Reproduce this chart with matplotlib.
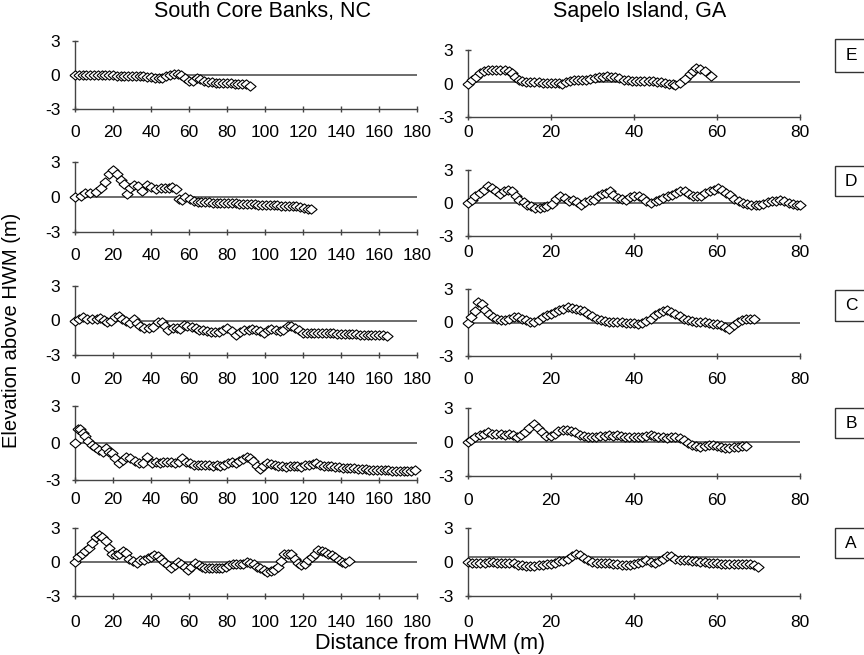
import matplotlib.pyplot as plt
from matplotlib.patches import Rectangle

plt.rcParams['font.family'] = ['Liberation Sans', 'DejaVu Sans']
plt.rcParams['axes.unicode_minus'] = False

# South Core Banks, NC profiles (distance m, elevation m)
nc_e_x = [0, 2, 4, 6, 8, 10, 12, 14, 16, 18, 20, 22, 24, 26, 28, 30, 32, 34, 36, 38, 40, 42, 44, 46,
          48, 50, 52, 54, 56, 58, 60, 62, 64, 66, 68, 70, 72, 74, 76, 78, 80, 82, 84, 86, 88, 90, 92]
nc_e_y = [0, 0, 0, 0, 0, -0.02, -0.02, -0.03, -0.03, -0.03, -0.04, -0.05, -0.05, -0.06, -0.07, -0.08,
          -0.1, -0.1, -0.12, -0.15, -0.2, -0.25, -0.3, -0.25, -0.1, 0.0, 0.05, 0.1, 0.0, -0.3, -0.55,
          -0.5, -0.25, -0.35, -0.5, -0.6, -0.65, -0.7, -0.7, -0.7, -0.72, -0.72, -0.75, -0.75, -0.75,
          -0.75, -0.95]

nc_d_x = [0, 3, 5.5, 8, 11, 13.5, 16, 18, 20, 22, 24, 25.6, 27.4, 29, 31, 33, 35, 38, 40, 42.5, 45,
          47.5, 49.5, 51, 53, 54.5, 56.5, 58, 60.5, 62.5, 64.5, 66.5, 68.5, 70.5, 72.5, 74.5, 76.5,
          78.5, 80.5, 82.5, 84.5, 86.5, 88.5, 90.5, 92.5, 94.5, 96.5, 98.5, 100.5, 102.5, 104.5, 106.5,
          108.5, 110.5, 112.5, 114.5, 116.5, 118.5, 120.5, 122.5, 124]
nc_d_y = [0, 0.1, 0.35, 0.35, 0.4, 0.8, 1.3, 2.0, 2.3, 2.0, 1.5, 1.1, 0.3, 0.8, 1.0, 0.95, 0.55, 1.0,
          0.85, 0.7, 0.75, 0.75, 0.75, 0.85, 0.7, -0.15, -0.25, 0.0, -0.2, -0.3, -0.4, -0.45, -0.45,
          -0.45, -0.5, -0.5, -0.5, -0.5, -0.52, -0.55, -0.55, -0.57, -0.58, -0.6, -0.6, -0.62, -0.65,
          -0.65, -0.68, -0.7, -0.7, -0.72, -0.75, -0.75, -0.75, -0.78, -0.8, -0.85, -0.95, -1.0, -1.05]

nc_c_x = [0, 2, 4, 6.5, 9, 11.7, 13.4, 15.5, 17, 19, 20.8, 23, 24.8, 27, 29, 31, 32.6, 34.4, 36.5,
          38.7, 41, 43.5, 45.7, 47.5, 49, 51.5, 53.6, 55, 57.4, 59, 61.4, 63.7, 65.4, 67.5, 69.6, 71.4,
          73.6, 76, 78, 80, 82.6, 85, 87, 89, 91.4, 93, 95.5, 97.5, 99.6, 101.6, 103.3, 105.6, 107.7,
          109.4, 112, 113.8, 116, 118, 120.2, 122, 124, 126, 128, 130, 132, 134, 136, 138, 140, 142,
          144, 146, 148, 150, 152, 154, 156, 158, 160, 162, 164]
nc_c_y = [0, 0.1, 0.3, 0.1, 0.1, 0.1, 0.2, 0.05, -0.1, 0.0, 0.3, 0.35, 0.1, 0.0, -0.2, 0.1, -0.2, -0.5,
          -0.65, -0.65, -0.6, -0.1, -0.15, -0.5, -0.8, -0.65, -0.65, -0.75, -0.4, -0.5, -0.6, -0.65,
          -0.8, -0.85, -0.95, -1.0, -1.0, -1.0, -0.85, -0.65, -0.95, -1.3, -1.0, -0.8, -0.8, -0.75,
          -0.85, -0.95, -1.1, -0.8, -0.75, -0.8, -0.95, -0.8, -0.5, -0.45, -0.65, -0.85, -1.05, -1.1,
          -1.1, -1.1, -1.1, -1.05, -1.1, -1.1, -1.1, -1.15, -1.15, -1.15, -1.2, -1.2, -1.2, -1.25,
          -1.25, -1.25, -1.3, -1.3, -1.3, -1.3, -1.35]

nc_b_x = [0, 1.4, 2.7, 4, 5.3, 7, 8.8, 10.6, 12.4, 14.5, 16.3, 18, 19.5, 21, 23, 25, 27, 29, 31.5,
          33.6, 35.7, 38, 40.4, 42.5, 44.5, 46.5, 48.5, 50.5, 52.5, 54.5, 56.5, 58.5, 60.5, 62.5, 64.5,
          66.5, 68.5, 70.5, 72.5, 74.5, 76.5, 78.5, 80.5, 82.5, 84.5, 86.5, 88.5, 90.5, 92, 93.8, 95.6,
          97.3, 99, 101, 103, 105, 107, 109, 111, 113, 115, 117, 119, 121, 123, 125, 127, 129, 131,
          133, 135, 137, 139, 141, 143, 145, 147, 149, 151, 153, 155, 157, 159, 161, 163, 165, 167,
          169, 171, 173, 175, 177, 179]
nc_b_y = [0, 1.1, 1.1, 0.85, 0.55, 0.15, -0.2, -0.35, -0.55, -0.7, -0.4, -0.75, -0.85, -1.2, -1.65,
          -1.4, -1.1, -1.25, -1.45, -1.6, -1.6, -1.1, -1.6, -1.55, -1.6, -1.5, -1.55, -1.5, -1.6, -1.5,
          -1.25, -1.5, -1.65, -1.75, -1.8, -1.75, -1.8, -1.8, -1.85, -1.8, -1.85, -1.75, -1.6, -1.55,
          -1.6, -1.45, -1.3, -1.1, -1.25, -1.45, -1.85, -2.1, -1.85, -1.6, -1.7, -1.75, -1.85, -1.9,
          -1.95, -1.9, -1.85, -1.9, -1.95, -1.8, -1.75, -1.7, -1.65, -1.75, -1.85, -1.9, -1.9, -1.95,
          -1.95, -2.0, -2.0, -2.05, -2.05, -2.1, -2.1, -2.1, -2.15, -2.15, -2.2, -2.2, -2.2, -2.2,
          -2.25, -2.25, -2.25, -2.25, -2.25, -2.25, -2.2]

nc_a_x = [0, 1.8, 3.6, 5.3, 7.3, 9, 10.8, 12.6, 14.4, 16.2, 18, 19.7, 21.5, 23.3, 25, 26.8, 28.6,
          30.4, 32.5, 34.3, 36.4, 38.2, 40, 41.7, 43.5, 45.3, 47, 48.8, 50.6, 52.4, 54.2, 56, 57.7,
          59.5, 61.3, 63, 65, 66.6, 68.5, 70.3, 72, 74, 75.8, 77.6, 79.4, 81.2, 83, 85, 86.8, 88.6,
          90.4, 92.2, 94, 95.8, 97.6, 99.4, 101.2, 103, 104.8, 106.6, 108.4, 110.2, 112, 113.8, 115.6,
          117.4, 119.2, 121, 122.7, 124.5, 126.3, 128, 129.8, 131.6, 133.4, 135.2, 137, 138.7, 140.5,
          142.3, 144.4]
nc_a_y = [0, 0.45, 0.75, 0.95, 1.25, 1.7, 2.25, 2.35, 2.25, 1.85, 1.2, 0.7, 0.6, 0.7, 0.95, 0.8,
          0.3, 0.05, -0.1, 0.2, 0.15, 0.35, 0.45, 0.6, 0.55, 0.3, 0.0, -0.3, -0.5, -0.3, 0.0, -0.2,
          -0.45, -0.7, -0.45, -0.1, -0.3, -0.45, -0.5, -0.55, -0.55, -0.55, -0.5, -0.5, -0.45, -0.3,
          -0.2, -0.2, -0.2, -0.15, 0.0, -0.1, -0.2, -0.4, -0.55, -0.7, -0.85, -0.75, -0.7, -0.45, 0.1,
          0.7, 0.75, 0.7, 0.3, -0.1, -0.3, -0.15, 0.15, 0.45, 0.75, 1.05, 1.0, 0.85, 0.7, 0.6, 0.45,
          0.2, 0.0, -0.1, 0.1]

# Sapelo Island, GA profiles
ga_e_x = [0, 1, 2, 2.8, 3.8, 4.7, 5.8, 6.8, 7.8, 8.8, 9.8, 10.6, 11.4, 12.2, 13, 14, 15, 16, 17, 18,
          19, 20, 21, 22, 22.6, 23.5, 24.5, 25.5, 26.5, 27.5, 28.5, 29.5, 30.5, 31.5, 32.5, 33.5,
          34.5, 35.5, 36.5, 37.5, 38.5, 39.5, 40.5, 41.5, 42.5, 43.5, 44.5, 45.5, 46.5, 47.5, 48.5,
          49.3, 50, 51, 52.3, 53.5, 54.3, 55, 56, 57, 58.5]
ga_e_y = [0, 0.3, 0.6, 0.9, 1.1, 1.2, 1.2, 1.2, 1.2, 1.2, 1.15, 0.9, 0.6, 0.3, 0.2, 0.15, 0.12, 0.1,
          0.1, 0.08, 0.08, 0.08, 0.05, 0.05, 0.0, 0.1, 0.25, 0.3, 0.3, 0.3, 0.35, 0.4, 0.5, 0.55, 0.6,
          0.65, 0.6, 0.55, 0.45, 0.35, 0.3, 0.25, 0.2, 0.2, 0.25, 0.2, 0.25, 0.15, 0.1, 0.05, 0.0,
          -0.05, -0.1, 0.05, 0.4, 0.85, 1.1, 1.35, 1.3, 1.1, 0.65]

ga_d_x = [0, 1, 1.8, 2.8, 3.8, 4.8, 5.8, 6.7, 7.6, 8.6, 9.6, 10.7, 11.6, 12.4, 13.4, 14.2, 15.2,
          16.2, 17.3, 18.2, 19, 20.3, 21.3, 22.2, 23.3, 24.3, 25.3, 26.2, 27.3, 28.3, 29.3, 30.3,
          31.3, 32.3, 33.3, 34.3, 35, 36.1, 37.2, 38.1, 39.1, 40.1, 41.2, 42.1, 43, 44.1, 45.2, 46.1,
          47.1, 48.2, 49.2, 50.2, 51.1, 52.2, 53.2, 54.2, 55.1, 56.2, 57.2, 58.2, 59.2, 60.2, 61.2,
          62.2, 63.2, 64.2, 65.2, 66.2, 67.2, 68.2, 69.3, 70.2, 71.2, 72.2, 73.3, 74.2, 75.2, 76.2,
          77.3, 78.2, 79.2, 80]
ga_d_y = [0, 0.3, 0.65, 0.95, 1.2, 1.55, 1.35, 1.05, 0.85, 1.05, 1.2, 1.05, 0.65, 0.3, 0.05, -0.15,
          -0.3, -0.45, -0.45, -0.35, -0.3, -0.05, 0.35, 0.6, 0.45, 0.15, 0.3, 0.05, -0.15, 0.05, 0.25,
          0.3, 0.6, 0.8, 0.9, 1.05, 0.75, 0.45, 0.35, 0.3, 0.55, 0.65, 0.6, 0.45, 0.15, 0.0, 0.15, 0.3,
          0.45, 0.6, 0.75, 0.9, 1.05, 1.05, 0.85, 0.65, 0.6, 0.65, 0.9, 1.05, 1.2, 1.35, 1.2, 0.95,
          0.75, 0.35, 0.15, 0.0, -0.05, -0.15, -0.15, -0.15, -0.05, 0.05, 0.15, 0.15, 0.25, 0.15, 0.0,
          -0.05, -0.15, -0.15]

ga_c_x = [0, 0.8, 1.6, 2.4, 3.4, 4.2, 5.1, 6, 7, 8, 9, 10, 11, 12, 13, 14, 15, 16, 17, 18, 19, 20,
          21, 22, 23, 24, 25, 26, 27, 28, 29, 30, 31, 32, 33, 34, 35, 36, 37, 38, 39, 40, 41, 42, 43,
          44, 45, 46, 47, 48, 49, 50, 51, 52, 53, 54, 55, 56, 57, 58, 59, 60, 61, 62, 63, 64, 65, 66,
          67, 68, 69]
ga_c_y = [0, 0.5, 1.05, 1.85, 1.65, 1.15, 0.75, 0.5, 0.35, 0.25, 0.25, 0.35, 0.5, 0.5, 0.35, 0.2,
          0.05, 0.05, 0.2, 0.45, 0.65, 0.8, 0.95, 1.1, 1.25, 1.35, 1.3, 1.25, 1.15, 1.05, 0.8, 0.55,
          0.35, 0.2, 0.15, 0.05, 0.05, 0.05, 0.05, -0.05, -0.05, -0.05, -0.15, -0.05, 0.15, 0.35, 0.65,
          0.85, 1.05, 1.1, 0.95, 0.75, 0.55, 0.35, 0.2, 0.1, 0.05, 0.05, 0.05, -0.05, -0.1, -0.15,
          -0.25, -0.4, -0.55, -0.25, 0.05, 0.25, 0.35, 0.35, 0.35]

ga_b_x = [0, 0.8, 1.8, 2.8, 3.9, 4.8, 5.8, 6.8, 7.9, 8.8, 9.8, 10.8, 11.9, 12.8, 13.8, 14.8, 15.9,
          16.9, 17.8, 18.9, 19.9, 20.9, 21.8, 22.9, 23.9, 24.9, 25.8, 26.9, 27.9, 28.9, 29.9, 30.9,
          31.9, 32.9, 33.9, 34.9, 36, 36.9, 37.9, 38.9, 40, 40.9, 41.9, 42.9, 44, 44.9, 45.9, 47, 48,
          49, 49.9, 51, 52, 53, 53.9, 55, 56, 57, 58, 59, 60, 61, 62, 63, 64, 65, 66, 67]
ga_b_y = [0, 0.2, 0.4, 0.6, 0.75, 0.9, 0.75, 0.7, 0.75, 0.6, 0.7, 0.6, 0.45, 0.6, 0.85, 1.2, 1.55,
          1.2, 0.85, 0.55, 0.55, 0.75, 1.0, 1.1, 1.1, 1.0, 0.85, 0.6, 0.55, 0.45, 0.45, 0.45, 0.5, 0.5,
          0.6, 0.55, 0.6, 0.55, 0.45, 0.4, 0.4, 0.4, 0.45, 0.55, 0.6, 0.55, 0.45, 0.4, 0.35, 0.4, 0.45,
          0.35, 0.15, -0.05, -0.25, -0.35, -0.45, -0.35, -0.25, -0.25, -0.35, -0.45, -0.5, -0.55,
          -0.45, -0.45, -0.35, -0.35]

ga_a_x = [0, 1, 2, 3, 4, 5, 6, 7, 8, 9, 10, 11, 12, 13, 14, 15, 16, 17, 18, 19, 20, 21, 22, 23, 24,
          25, 26, 27, 28, 29, 30, 31, 32, 33, 34, 35, 36, 37, 38, 39, 40, 41, 42, 43, 44, 45, 46, 47,
          48, 49, 50, 51, 52, 53, 54, 55, 56, 57, 58, 59, 60, 61, 62, 63, 64, 65, 66, 67, 68, 69, 70]
ga_a_y = [0, -0.05, -0.05, -0.05, -0.05, 0.0, 0.0, -0.05, -0.05, -0.05, -0.1, -0.1, -0.3, -0.3,
          -0.35, -0.35, -0.35, -0.3, -0.25, -0.2, -0.15, -0.05, 0.05, 0.1, 0.3, 0.5, 0.75, 0.65, 0.35,
          0.15, 0.0, -0.05, -0.05, -0.05, -0.1, -0.15, -0.2, -0.3, -0.3, -0.25, -0.2, -0.1, 0.0, 0.2,
          0.0, -0.05, 0.05, 0.3, 0.5, 0.55, 0.3, 0.15, 0.15, 0.2, 0.05, 0.05, 0.0, 0.0, -0.05, -0.1,
          -0.1, -0.15, -0.2, -0.2, -0.2, -0.2, -0.15, -0.15, -0.2, -0.3, -0.4]

# HWM reference line level drawn in each Sapelo panel (E..A)
ga_hwm = [0.15, 0, 0, 0, 0.4]

profiles = ["E", "D", "C", "B", "A"]
nc_series = [(nc_e_x, nc_e_y), (nc_d_x, nc_d_y), (nc_c_x, nc_c_y), (nc_b_x, nc_b_y), (nc_a_x, nc_a_y)]
ga_series = [(ga_e_x, ga_e_y), (ga_d_x, ga_d_y), (ga_c_x, ga_c_y), (ga_b_x, ga_b_y), (ga_a_x, ga_a_y)]

W, H = 864, 655
fig = plt.figure(figsize=(W / 100, H / 100), dpi=100)


def px_axes(x0, y0, x1, y1):
    return fig.add_axes([x0 / W, 1 - y1 / H, (x1 - x0) / W, (y1 - y0) / H])


def style(ax, xmax, xstep, base, xpad):
    ax.axhline(base, color='#444444', lw=1.1, zorder=1)
    ax.set_xlim(0, xmax)
    ax.set_ylim(-3, 3)
    ax.set_xticks(range(0, xmax + 1, xstep))
    ax.set_yticks([-3, 0, 3])
    ax.spines['top'].set_visible(False)
    ax.spines['right'].set_visible(False)
    for s in ['left', 'bottom']:
        ax.spines[s].set_color('#444444')
        ax.spines[s].set_linewidth(1.0)
    ax.tick_params(direction='inout', length=5, width=1, color='#444444', labelsize=12.5)
    ax.tick_params(axis='x', pad=xpad)
    ax.tick_params(axis='y', pad=8)
    ax.patch.set_alpha(0)


# panel pixel rows (top, bottom) and x-label padding
left_rows = [(41, 109), (162, 232), (286, 355), (406, 480), (528, 596)]
right_rows = [(50, 117), (170, 236), (289, 356), (408, 476), (528, 596)]
left_pad = [9, 9, 10, 6, 11]
right_pad = [3, 4, 9, 10, 11]
box_rows = [(39, 72), (166, 196), (290, 321), (408, 438), (528, 558)]

diamond = [(-1.2, 0), (0, 1), (1.2, 0), (0, -1), (-1.2, 0)]
mk = dict(linestyle='none', marker=diamond, ms=8, mfc='white', mec='black', mew=0.8,
          clip_on=False, zorder=3)

for i, p in enumerate(profiles):
    ax = px_axes(75, left_rows[i][0], 417, left_rows[i][1])
    style(ax, 180, 20, 0, left_pad[i])
    ax.plot(nc_series[i][0], nc_series[i][1], **mk)

    ax2 = px_axes(468, right_rows[i][0], 800, right_rows[i][1])
    style(ax2, 80, 20, ga_hwm[i], right_pad[i])
    ax2.plot(ga_series[i][0], ga_series[i][1], **mk)

    y0, y1 = box_rows[i]
    fig.patches.append(Rectangle((835 / W, 1 - y1 / H), 40 / W, (y1 - y0) / H,
                                 transform=fig.transFigure, fill=False, ec='#333333', lw=1.0))
    fig.text(851 / W, 1 - (y0 + y1) / 2 / H, p, ha='center', va='center', fontsize=12.5)

fig.text(262 / W, 1 - 12 / H, "South Core Banks, NC", ha='center', va='center', fontsize=15.5)
fig.text(640 / W, 1 - 12 / H, "Sapelo Island, GA", ha='center', va='center', fontsize=15.5)
fig.text(12 / W, 1 - 330 / H, "Elevation above HWM (m)", rotation=90, ha='center', va='center',
         fontsize=14.5)
fig.text(430 / W, 1 - 643 / H, "Distance from HWM (m)", ha='center', va='center', fontsize=15.5)

fig.savefig("out.png", dpi=100)
